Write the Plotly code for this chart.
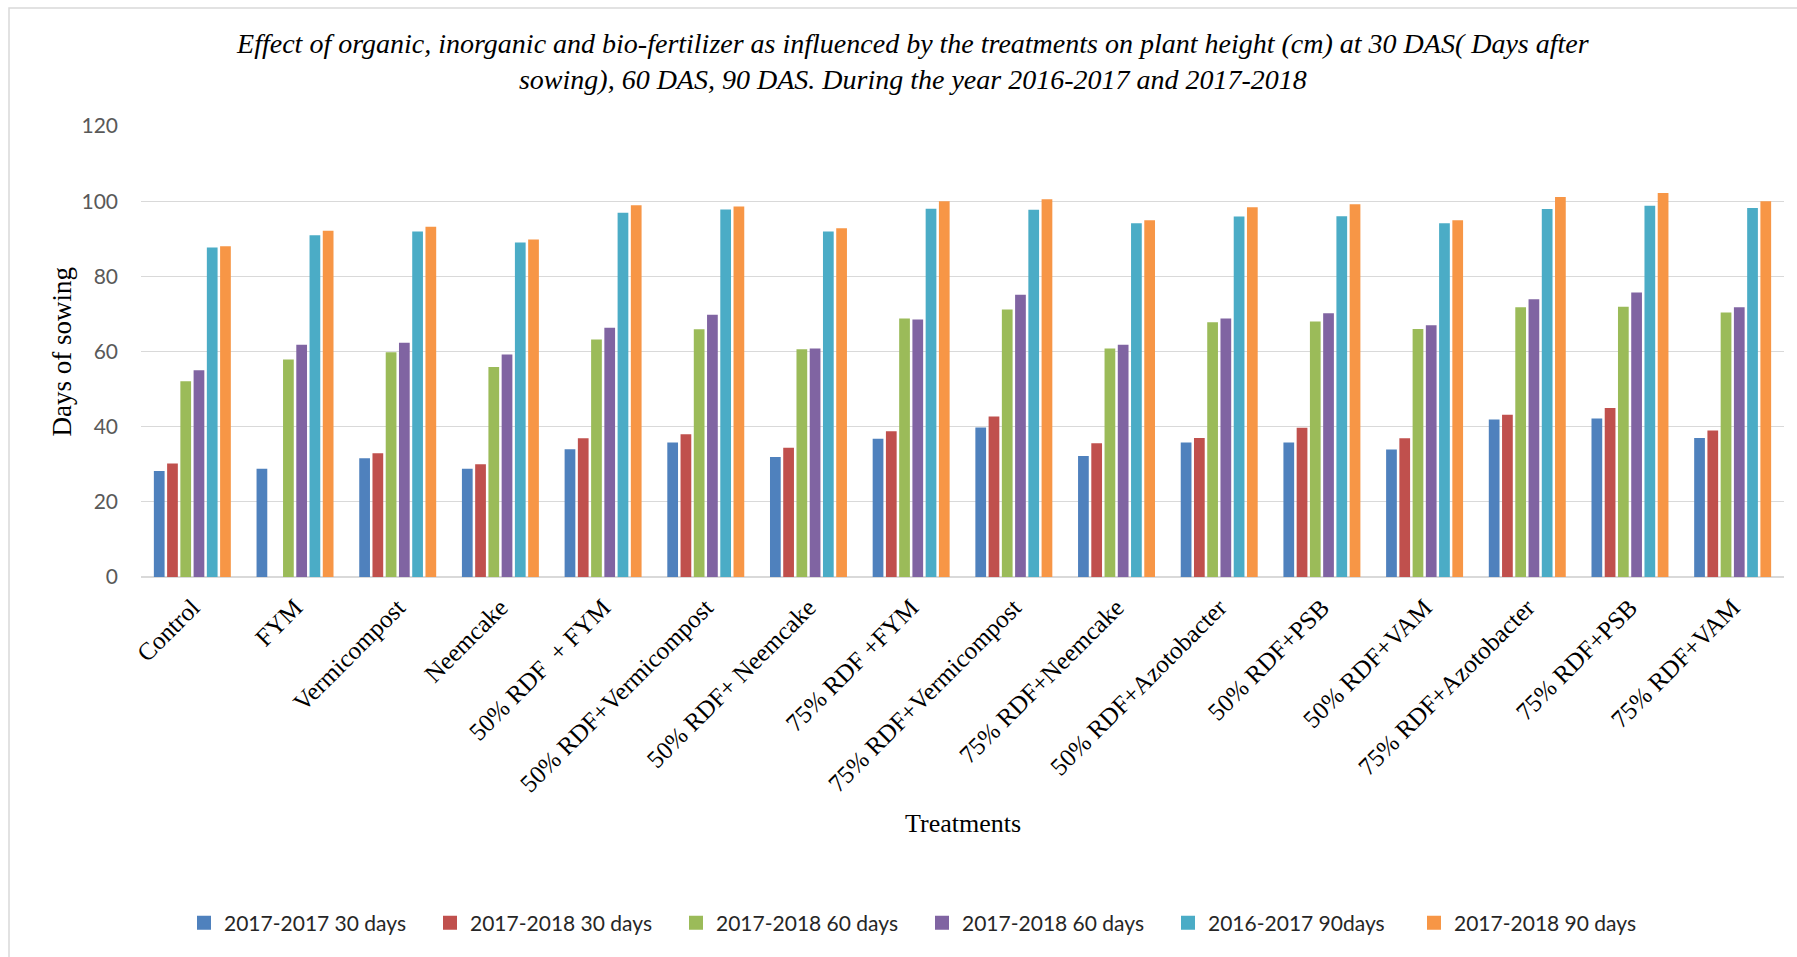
import plotly.graph_objects as go

# Treatments on the x axis
treatments = [
    "Control", "FYM", "Vermicompost", "Neemcake", "50% RDF  + FYM",
    "50% RDF+Vermicompost", "50% RDF+ Neemcake", "75% RDF +FYM",
    "75% RDF+Vermicompost", "75% RDF+Neemcake", "50% RDF+Azotobacter",
    "50% RDF+PSB", "50% RDF+VAM", "75% RDF+Azotobacter", "75% RDF+PSB",
    "75% RDF+VAM",
]

# Plant height (cm) per series
h_2017_30 = [28.2, 28.8, 31.6, 28.8, 34.0, 35.8, 31.9, 36.8, 39.8, 32.2, 35.8, 35.8, 33.9, 41.9, 42.2, 37.0]
h_2018_30 = [30.2, 0, 32.9, 30.0, 36.9, 38.0, 34.4, 38.8, 42.7, 35.6, 37.0, 39.7, 36.9, 43.2, 45.0, 39.0]
h_2018_60a = [52.1, 57.9, 59.8, 55.9, 63.2, 65.9, 60.6, 68.8, 71.2, 60.8, 67.8, 68.0, 66.0, 71.8, 71.9, 70.4]
h_2018_60b = [55.0, 61.8, 62.3, 59.2, 66.3, 69.8, 60.8, 68.5, 75.1, 61.8, 68.8, 70.2, 67.0, 73.9, 75.7, 71.8]
h_2017_90 = [87.7, 90.9, 91.9, 89.0, 96.9, 97.8, 91.9, 98.0, 97.7, 94.1, 95.9, 96.0, 94.1, 97.9, 98.8, 98.2]
h_2018_90 = [88.0, 92.1, 93.2, 89.8, 98.9, 98.6, 92.8, 100.0, 100.5, 94.9, 98.4, 99.2, 94.9, 101.1, 102.2, 100.0]

series_names = [
    "2017-2017 30 days", "2017-2018 30 days", "2017-2018 60 days",
    "2017-2018 60 days", "2016-2017 90days", "2017-2018 90 days",
]
series_values = [h_2017_30, h_2018_30, h_2018_60a, h_2018_60b, h_2017_90, h_2018_90]
series_colors = ["#4F81BD", "#C0504D", "#9BBB59", "#8064A2", "#4BACC6", "#F79646"]

W, H = 1797, 957
L, R, T, B = 141, 13, 126, 380
plot_w = W - L - R
plot_h = H - T - B

fig = go.Figure()
for i, (name, vals, col) in enumerate(zip(series_names, series_values, series_colors)):
    fig.add_trace(go.Bar(
        name=name, x=treatments, y=vals, legendgroup=f"s{i}", showlegend=False,
        marker=dict(color=col, line=dict(width=0)),
    ))
# square legend keys (larger than the default bar swatch)
for i, (name, col) in enumerate(zip(series_names, series_colors)):
    fig.add_trace(go.Scatter(
        name=name, x=[None], y=[None], mode="markers", legendgroup=f"s{i}",
        marker=dict(symbol="square", size=14, color=col), hoverinfo="skip",
    ))

serif = "Liberation Serif, Times New Roman, serif"
sans = "Lato, Carlito, Calibri, sans-serif"

def px_x(p):
    return (p - L) / plot_w

def px_y(p):
    return (H - B - p) / plot_h

fig.update_layout(
    width=W, height=H,
    margin=dict(l=L, r=R, t=T, b=B),
    paper_bgcolor="white", plot_bgcolor="white",
    barmode="group", bargap=0.226, bargroupgap=0.19,
    title=dict(
        text="Effect of organic, inorganic and bio-fertilizer as influenced by the treatments on plant height (cm) at 30 DAS( Days after<br>sowing), 60 DAS, 90 DAS. During the year 2016-2017 and 2017-2018",
        font=dict(family=serif, size=28, color="black", style="italic"),
        x=0.508, xref="container", xanchor="center",
        y=1 - 53 / H, yref="container", yanchor="top",
    ),
    xaxis=dict(
        tickangle=-45, tickfont=dict(family=serif, size=25, color="black"),
        showgrid=False, showline=False, ticks="", ticklabelstandoff=10,
    ),
    yaxis=dict(
        range=[0, 120], dtick=20, tickfont=dict(family=sans, size=21, color="#595959"),
        showgrid=True, gridcolor="#d9d9d9", gridwidth=1.3,
        zeroline=True, zerolinecolor="#d9d9d9", zerolinewidth=1.5,
        showline=False, ticks="", ticklabelstandoff=22,
    ),
    legend=dict(
        orientation="h", xref="container", yref="container",
        x=922 / W, xanchor="center", y=1 - 923 / H, yanchor="middle",
        font=dict(family=sans, size=21, color="#262626"),
        entrywidth=201, itemwidth=30, traceorder="normal",
    ),
    showlegend=True,
    annotations=[
        dict(text="Days of sowing", xref="paper", yref="paper",
             x=px_x(61), y=0.5, textangle=-90, showarrow=False,
             xanchor="center", yanchor="middle",
             font=dict(family=serif, size=27, color="black")),
        dict(text="Treatments", xref="paper", yref="paper",
             x=px_x(963), y=px_y(823), showarrow=False,
             xanchor="center", yanchor="middle",
             font=dict(family=serif, size=26, color="black")),
    ],
    shapes=[
        dict(type="rect", xref="paper", yref="paper",
             x0=px_x(9), x1=px_x(1805), y0=px_y(965), y1=px_y(8),
             line=dict(color="#d9d9d9", width=1.5), fillcolor="rgba(0,0,0,0)", layer="below"),
    ],
)

fig.write_html("out.html")
